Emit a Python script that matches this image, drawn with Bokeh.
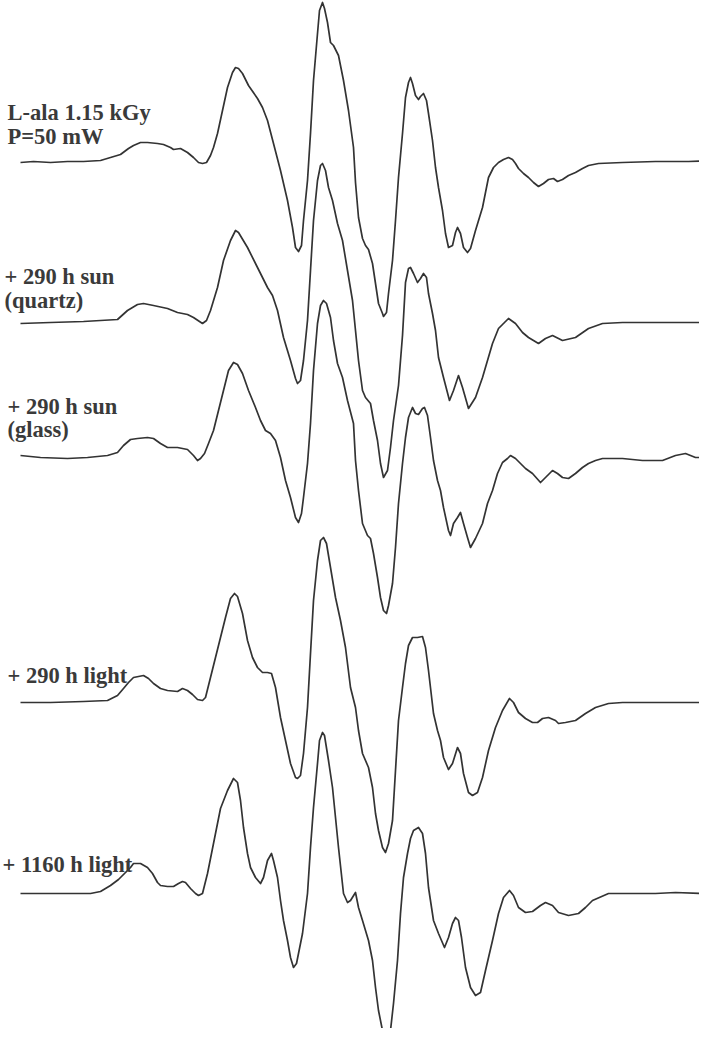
from bokeh.plotting import figure
from bokeh.models import Range1d, ColumnDataSource
from bokeh.core.properties import value
from bokeh.embed import file_html
from bokeh.resources import INLINE

# ---- data: magnetic field position (arb.) and EPR derivative signal (arb.) ----
field1 = [20,33,50,67,83,100,110,120,128,133,140,147,157,163,170,173,180,187,193,198,
          202,206,210,213,217,222,227,232,235,238,242,248,257,262,267,273,280,287,292,295,
          298,301,303,307,310,313,317,319,322,324,327,330,333,338,343,348,353,
          355,358,362,365,368,372,375,378,382,383,386,388,392,395,398,402,405,408,410,412,
          415,418,420,423,426,428,432,435,438,442,445,448,452,455,457,460,463,467,470,475,
          482,488,493,498,503,508,512,515,518,523,528,533,538,543,548,553,557,562,568,575,
          582,588,598,622,655,688,715]
sig1 = [-2,-1,-2,-1,-1,0,3,6,12,15,18,18,17,16,13,11,12,8,3,-2,
        -3,-2,5,13,27,50,73,88,93,92,87,75,62,53,40,17,-10,-40,-67,-87,
        -91,-85,-60,-20,27,80,127,150,158,152,138,118,115,105,80,50,13,
        -22,-57,-78,-85,-89,-103,-123,-143,-153,-156,-152,-133,-100,-60,-17,27,63,78,83,77,
        65,61,64,67,60,47,20,-7,-27,-50,-73,-87,-85,-72,-67,-73,-87,-92,-88,-70,
        -47,-17,-7,-2,1,3,1,-3,-8,-13,-17,-22,-26,-23,-19,-18,-21,-19,-15,-12,
        -8,-5,-3,-2,-1,-1,0]

field2 = [20,50,83,117,127,137,143,153,167,177,187,193,202,206,210,217,223,230,235,238,
          247,257,267,272,277,283,290,295,297,300,303,307,310,313,317,320,322,325,328,332,
          337,342,347,352,355,358,362,365,370,373,377,380,383,387,390,393,398,402,405,408,
          410,413,417,420,423,426,428,432,435,438,443,449,453,458,462,468,475,482,492,498,
          508,515,522,528,538,545,552,562,575,588,602,622,655,715]
sig2 = [-1,0,1,3,12,18,19,17,14,10,8,5,-1,2,12,35,62,82,92,90,
        75,55,35,27,12,-15,-38,-56,-61,-58,-38,2,52,102,142,157,159,152,135,122,
        99,82,52,22,-8,-38,-68,-75,-81,-98,-118,-141,-155,-148,-125,-98,-63,-13,40,54,
        55,49,40,44,49,45,29,9,-8,-35,-55,-78,-68,-53,-65,-86,-75,-55,-21,-6,
        4,-1,-10,-15,-21,-16,-13,-18,-15,-6,-1,0,0,0]

field3 = [20,40,67,87,107,117,123,130,137,147,153,160,167,177,187,193,197,200,204,208,
          213,218,223,228,233,237,242,248,255,260,265,270,275,280,285,290,295,298,301,303,
          307,310,313,317,320,323,326,330,333,337,342,347,353,
          355,358,362,367,370,373,377,380,383,386,388,392,395,398,402,405,408,412,415,418,
          422,424,427,430,433,437,440,443,448,450,453,457,460,463,467,470,475,482,487,492,
          497,502,507,510,515,520,525,532,540,545,552,557,562,568,575,582,588,595,602,622,
          642,662,675,685,695,715]
sig3 = [2,0,-1,0,2,5,12,18,19,20,19,14,10,10,8,2,-3,-1,4,14,
        27,47,67,87,95,93,84,67,50,37,27,24,17,0,-23,-40,-60,-65,-56,-40,
        -6,34,87,134,152,157,154,140,117,94,80,57,34,
        -3,-33,-66,-78,-81,-96,-120,-140,-153,-156,-148,-126,-90,-46,-6,20,40,50,44,43,
        49,50,42,20,-3,-23,-33,-50,-73,-78,-66,-60,-55,-66,-80,-90,-81,-66,-46,-33,
        -16,-5,-1,2,-1,-6,-11,-16,-25,-20,-13,-16,-20,-21,-16,-10,-6,-3,-1,-1,
        -3,-3,2,4,0,0]

field4 = [20,50,83,107,117,123,128,133,143,148,153,160,167,177,182,187,192,197,202,205,
          210,215,220,225,230,234,237,242,247,252,257,262,267,271,275,280,285,290,295,297,
          300,303,307,310,313,317,320,323,326,330,335,340,345,350,355,358,362,368,372,375,
          378,382,385,388,392,395,398,402,405,408,412,417,422,425,428,433,437,440,443,448,
          452,457,460,463,468,472,477,482,488,495,502,509,513,518,525,532,537,542,548,555,
          558,565,575,585,595,608,622,655,715]
sig4 = [0,0,1,2,7,14,20,25,27,24,19,14,12,11,14,12,8,3,2,5,
        25,45,65,85,104,109,106,89,62,45,35,30,30,29,15,-15,-38,-61,-75,-76,
        -73,-51,-5,49,102,142,162,165,159,135,105,82,55,15,-5,-28,-51,-65,-85,-111,
        -128,-145,-150,-141,-118,-68,-18,15,39,57,65,65,66,55,32,-11,-28,-38,-55,-67,
        -61,-45,-51,-71,-90,-93,-90,-75,-48,-25,-8,4,0,-10,-16,-20,-20,-16,-15,-18,
        -21,-20,-18,-11,-5,-1,0,0,0]

field5 = [20,50,90,100,110,118,125,130,133,140,147,152,157,160,167,173,178,182,185,190,
          195,198,202,207,213,220,227,233,237,240,243,247,250,255,260,263,267,271,273,277,
          280,283,287,290,293,296,298,302,307,310,313,317,319,322,324,328,332,335,338,343,
          347,350,355,358,362,368,372,375,378,382,387,390,393,397,400,403,407,410,413,418,
          422,425,428,433,438,444,448,452,455,458,461,465,470,475,480,485,492,498,503,509,
          513,518,525,532,540,545,552,558,568,578,585,592,608,625,655,675,702]
sig5 = [0,0,0,2,8,14,21,26,30,30,26,20,11,8,7,7,10,12,11,5,
        0,-2,0,20,50,85,103,115,111,93,66,40,26,16,10,16,33,40,33,16,
        -7,-27,-47,-64,-74,-70,-60,-40,0,46,86,130,153,161,158,133,106,76,46,0,
        -9,-7,1,-14,-27,-47,-67,-94,-117,-137,-149,-137,-110,-67,-20,16,40,55,63,66,
        60,40,6,-27,-40,-54,-44,-30,-24,-27,-44,-74,-94,-102,-99,-77,-47,-20,-4,3,
        -2,-14,-19,-18,-12,-9,-12,-19,-22,-20,-14,-7,0,0,0,1,0]

# vertical stacking offsets of the five spectra
offsets = [884, 722, 587, 342, 151]

labels = ["L-ala 1.15 kGy", "P=50 mW", "+ 290 h sun", "(quartz)",
          "+ 290 h sun", "(glass)", "+ 290 h light", "+ 1160 h light"]
label_x = [7, 7, 4, 4, 7, 7, 7, 2]
label_y = [932, 908, 768, 744, 638, 615, 369, 180]

fields = [field1, field2, field3, field4, field5]
signals = [sig1, sig2, sig3, sig4, sig5]

p = figure(width=699, height=1028, output_backend="svg", toolbar_location=None,
           x_range=Range1d(0, 699), y_range=Range1d(16, 1044),
           min_border=0, min_border_left=0, min_border_right=0,
           min_border_top=0, min_border_bottom=0)
p.axis.visible = False
p.grid.visible = False
p.outline_line_color = None
p.background_fill_color = "white"
p.border_fill_color = "white"

for f, s, off in zip(fields, signals, offsets):
    p.line(f, [off + v for v in s], line_color="#333333", line_width=1.7,
           line_join="round")

src = ColumnDataSource(dict(x=label_x, y=label_y, t=labels))
p.text(x="x", y="y", text="t", source=src, text_font=value("Liberation Serif"),
       text_font_style="bold", text_font_size="22.5px", text_color="#3a3a3a",
       text_align="left", text_baseline="alphabetic")

open("out.html", "w").write(file_html(p, INLINE))
